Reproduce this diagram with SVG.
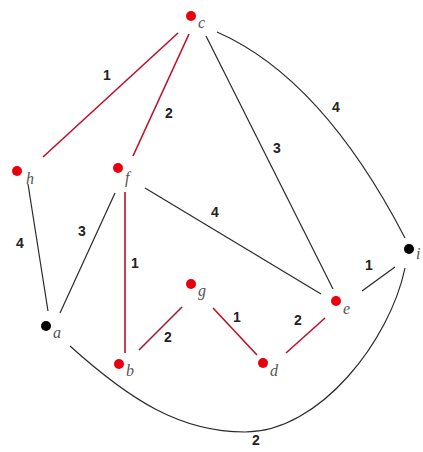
<svg xmlns="http://www.w3.org/2000/svg" width="423" height="452" viewBox="0 0 423 452">
<style>
.e{fill:none;stroke:#2a2a2a;stroke-width:1.2}
.r{fill:none;stroke:#c01028;stroke-width:1.6}
.w{font-family:"Liberation Sans",Arial,sans-serif;font-weight:bold;font-size:14px;fill:#222;text-anchor:middle}
.n{font-family:"Liberation Serif","Times New Roman",serif;font-style:italic;font-size:16px;fill:#555}
.dr{fill:#e8000f}
.dk{fill:#000}
</style>
<rect width="423" height="452" fill="#fff"/>
<g id="edges">
<line class="r" x1="178" y1="33" x2="43" y2="157"/>
<line class="r" x1="189" y1="34" x2="133" y2="156"/>
<line class="e" x1="206" y1="36" x2="333" y2="289"/>
<path class="e" d="M217,32 Q322,78 405,238"/>
<line class="e" x1="145" y1="188" x2="321" y2="294"/>
<line class="e" x1="28" y1="184" x2="48" y2="311"/>
<line class="e" x1="115" y1="193" x2="60" y2="313"/>
<line class="r" x1="125" y1="192" x2="125" y2="353"/>
<line class="r" x1="182" y1="307" x2="139" y2="350"/>
<line class="r" x1="213" y1="308" x2="257" y2="355"/>
<line class="r" x1="325" y1="318" x2="286" y2="353"/>
<line class="e" x1="362" y1="291" x2="395" y2="267"/>
<path class="e" d="M70,346 C130,400 180,432 245,432 C320,432 390,340 405,268"/>
<text class="w" x="107" y="80">1</text>
<text class="w" x="169" y="118">2</text>
<text class="w" x="277" y="153">3</text>
<text class="w" x="336" y="112">4</text>
<text class="w" x="215" y="217">4</text>
<text class="w" x="20" y="248">4</text>
<text class="w" x="82" y="236">3</text>
<text class="w" x="135" y="268">1</text>
<text class="w" x="168" y="342">2</text>
<text class="w" x="237" y="322">1</text>
<text class="w" x="298" y="325">2</text>
<text class="w" x="369" y="270">1</text>
<text class="w" x="256" y="445">2</text>
</g>
<g id="node-c"><circle class="dr" cx="191" cy="16" r="5"/><text class="n" x="198" y="28">c</text></g>
<g id="node-h"><circle class="dr" cx="17" cy="171" r="5"/><text class="n" x="26" y="184">h</text></g>
<g id="node-f"><circle class="dr" cx="118" cy="168" r="5"/><text class="n" x="125" y="183">f</text></g>
<g id="node-a"><circle class="dk" cx="46" cy="326" r="5"/><text class="n" x="53" y="338">a</text></g>
<g id="node-b"><circle class="dr" cx="119" cy="364" r="5"/><text class="n" x="126" y="376">b</text></g>
<g id="node-g"><circle class="dr" cx="191" cy="284" r="5"/><text class="n" x="198" y="296">g</text></g>
<g id="node-d"><circle class="dr" cx="263" cy="363" r="5"/><text class="n" x="270" y="376">d</text></g>
<g id="node-e"><circle class="dr" cx="336" cy="301" r="5"/><text class="n" x="343" y="314">e</text></g>
<g id="node-i"><circle class="dk" cx="409" cy="249" r="5"/><text class="n" x="416" y="259">i</text></g>
</svg>
